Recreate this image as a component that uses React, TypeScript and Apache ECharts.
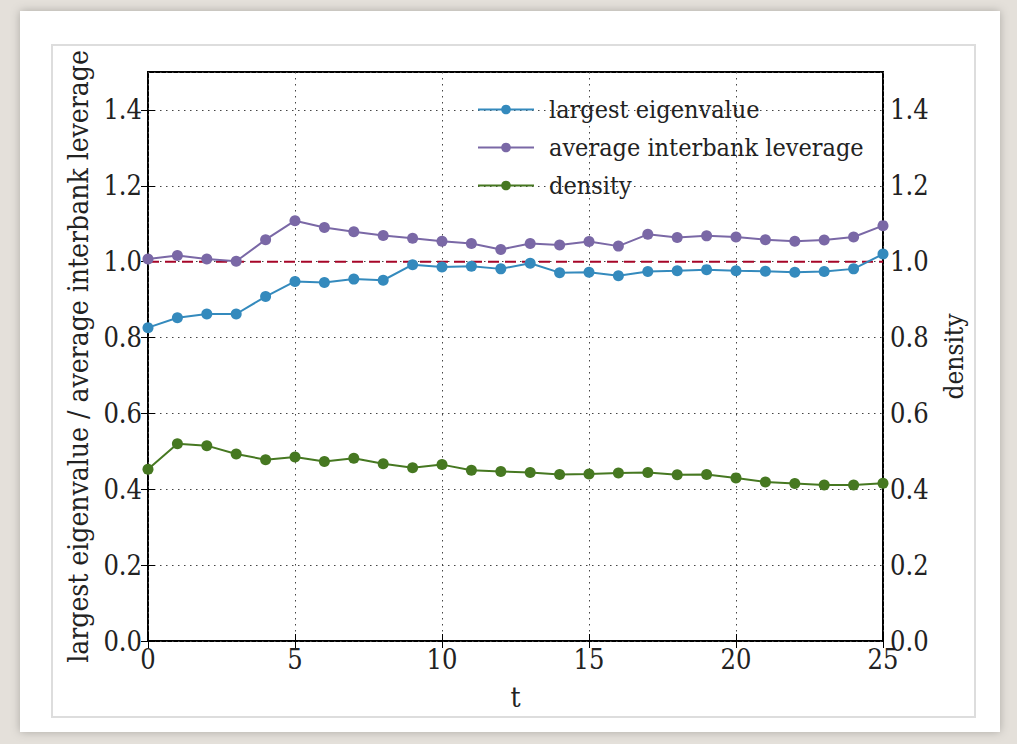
import React, { useEffect, useRef } from "react";
import * as echarts from "echarts";

const tValues = [0,1,2,3,4,5,6,7,8,9,10,11,12,13,14,15,16,17,18,19,20,21,22,23,24,25];
const largestEigenvalue = [0.826,0.852,0.862,0.862,0.908,0.948,0.945,0.954,0.951,0.992,0.986,0.988,0.981,0.996,0.971,0.972,0.963,0.974,0.976,0.979,0.976,0.975,0.972,0.974,0.981,1.020];
const avgLeverage = [1.007,1.016,1.007,1.001,1.058,1.108,1.090,1.079,1.069,1.062,1.054,1.048,1.032,1.048,1.044,1.053,1.041,1.072,1.064,1.068,1.065,1.058,1.054,1.057,1.065,1.095];
const density = [0.453,0.520,0.515,0.493,0.478,0.485,0.473,0.482,0.467,0.457,0.465,0.450,0.447,0.444,0.439,0.440,0.443,0.444,0.438,0.439,0.430,0.419,0.415,0.411,0.411,0.416];
const referenceLine = [[0, 1.0], [25, 1.0]];
const seriesNames = ["largest eigenvalue", "average interbank leverage", "density"];

const FONT = "DejaVu Serif Condensed, DejaVu Serif";

export default function App() {
  const ref = useRef<HTMLDivElement>(null);
  useEffect(() => {
    document.body.style.margin = "0";
    const chart = echarts.init(ref.current!, undefined, { renderer: "svg" });
    const pair = (arr: number[]) => tValues.map((t, i) => [t, arr[i]]);
    const labelStyle = { fontFamily: FONT, fontSize: 27, color: "#222" };
    chart.setOption({
      animation: false,
      backgroundColor: "#e4e0da",
      graphic: [
        { type: "rect", shape: { x: 20, y: 11, width: 980, height: 721 }, style: { fill: "#ffffff", shadowBlur: 10, shadowColor: "rgba(0,0,0,0.25)" }, z: -10 },
        { type: "rect", shape: { x: 52, y: 45, width: 923, height: 672 }, style: { fill: "#ffffff", stroke: "#dddddd", lineWidth: 2 }, z: -9 },
      ],
      grid: { left: 148, right: 134, top: 72, bottom: 103, show: true, borderColor: "#000", borderWidth: 2, backgroundColor: "transparent" },
      legend: {
        data: seriesNames,
        orient: "vertical",
        left: 472,
        top: 92,
        itemWidth: 56,
        itemHeight: 12,
        itemGap: 13,
        textStyle: { fontFamily: FONT, fontSize: 25, color: "#222", padding: [0, 0, 0, 10] },
      },
      xAxis: [
        {
          type: "value", min: 0, max: 25, interval: 5,
          name: "t", nameLocation: "middle", nameGap: 42,
          nameTextStyle: { fontFamily: FONT, fontSize: 28, color: "#222" },
          axisLine: { show: false },
          axisTick: { show: true, inside: true, length: 7, lineStyle: { color: "#000", width: 1 } },
          axisLabel: { ...labelStyle, margin: 5 },
          splitLine: { show: true, lineStyle: { color: "#444", type: [1.5, 4.5], width: 1 } },
        },
        {
          type: "value", min: 0, max: 25, interval: 5, position: "top",
          axisLine: { show: false },
          axisTick: { show: true, inside: true, length: 7, lineStyle: { color: "#000", width: 1 } },
          axisLabel: { show: false },
          splitLine: { show: false },
        },
      ],
      yAxis: [
        {
          type: "value", min: 0, max: 1.5, interval: 0.2,
          name: "largest eigenvalue / average interbank leverage",
          nameLocation: "middle", nameGap: 50, nameRotate: 90,
          nameTextStyle: { fontFamily: FONT, fontSize: 28, color: "#222" },
          axisLine: { show: false },
          axisTick: { show: true, inside: true, length: 7, lineStyle: { color: "#000", width: 1 } },
          axisLabel: { ...labelStyle, margin: 6, showMaxLabel: false, formatter: (v: number) => v.toFixed(1) },
          splitLine: { show: true, lineStyle: { color: "#444", type: [1.5, 4.5], width: 1 } },
        },
        {
          type: "value", min: 0, max: 1.5, interval: 0.2, position: "right",
          name: "density",
          nameLocation: "middle", nameGap: 58, nameRotate: 90,
          nameTextStyle: { fontFamily: FONT, fontSize: 26, color: "#222" },
          axisLine: { show: false },
          axisTick: { show: true, inside: true, length: 7, lineStyle: { color: "#000", width: 1 } },
          axisLabel: { ...labelStyle, margin: 7, showMaxLabel: false, formatter: (v: number) => v.toFixed(1) },
          splitLine: { show: false },
        },
      ],
      series: [
        {
          name: "reference", type: "line", data: referenceLine, showSymbol: false, symbol: "none",
          lineStyle: { color: "#A60628", width: 2, type: [11, 6] }, z: 1, silent: true,
        },
        {
          name: seriesNames[0], type: "line", data: pair(largestEigenvalue),
          symbol: "circle", symbolSize: 11, color: "#348ABD",
          lineStyle: { width: 2, color: "#348ABD" }, itemStyle: { color: "#348ABD" }, z: 3,
        },
        {
          name: seriesNames[1], type: "line", data: pair(avgLeverage),
          symbol: "circle", symbolSize: 11, color: "#7A68A6",
          lineStyle: { width: 2, color: "#7A68A6" }, itemStyle: { color: "#7A68A6" }, z: 3,
        },
        {
          name: seriesNames[2], type: "line", data: pair(density), yAxisIndex: 1,
          symbol: "circle", symbolSize: 11, color: "#467821",
          lineStyle: { width: 2, color: "#467821" }, itemStyle: { color: "#467821" }, z: 3,
        },
      ],
    });
    return () => chart.dispose();
  }, []);
  return <div ref={ref} style={{ position: "fixed", left: 0, top: 0, width: 1017, height: 744 }} />;
}
